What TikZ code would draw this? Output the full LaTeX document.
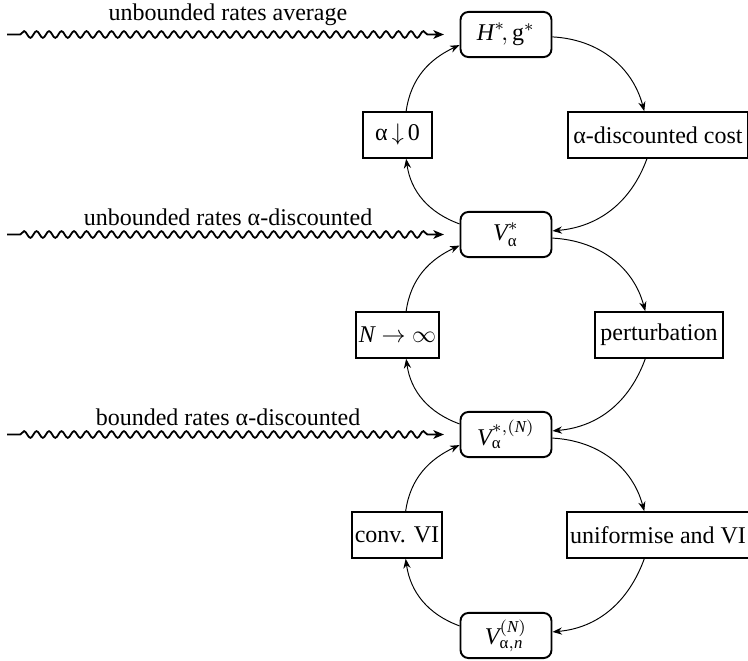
\documentclass[tikz,border=0pt]{standalone}
\usepackage{amsmath}
\usepackage{fontspec}
\setmainfont{Liberation Serif}
\usetikzlibrary{arrows.meta,decorations.pathmorphing}

\begin{document}
\begin{tikzpicture}[x=0.4167pt, y=-0.4167pt,
  valuebox/.style={draw, line width=0.8pt, rounded corners=3.3pt,
    minimum width=37.9pt, minimum height=18.8pt, inner sep=1pt},
  stepbox/.style={draw, line width=0.8pt, minimum height=19pt, inner sep=1pt},
  link/.style={line width=0.4pt, -{Stealth[length=4pt, width=3pt, inset=1.3pt]}},
  wavy/.style={line width=0.75pt, decorate,
    decoration={snake, amplitude=1.4pt, segment length=5.2pt,
      pre length=5.5pt, post length=6pt},
    -{Stealth[length=4.4pt, width=3.6pt, inset=1.2pt]}},
  wavelabel/.style={anchor=south, inner sep=3.3pt}]
\useasboundingbox (0,0) rectangle (748,661);

% value functions (middle column)
\node[valuebox] (H)  at (506,34.5)  {$\textit{H}^{*}\!,\text{g}^{*}$};
\node[valuebox] (V)  at (506,234.5) {$\textit{V}^{*}_{\text{α}}$};
\node[valuebox] (VN) at (506,434.5) {$\textit{V}^{*,(\textit{N})}_{\text{α}}$};
\node[valuebox] (Vn) at (506,635.5) {$\textit{V}^{(\textit{N})}_{\text{α},\textit{n}}$};

% limiting steps (left column)
\node[stepbox, minimum width=28.8pt] (a0) at (397.5,135) {α\,$\downarrow$\,0};
\node[stepbox, minimum width=33.8pt] (nn) at (397.5,335) {$\textit{N}\rightarrow\infty$};
\node[stepbox, minimum width=37.5pt] (cv) at (397,535)   {conv. VI};

% constructions (right column)
\node[stepbox, minimum width=75pt]   (ad) at (658,135)   {α-discounted cost};
\node[stepbox, minimum width=53.3pt] (pt) at (659,335)   {perturbation};
\node[stepbox, minimum width=75.8pt] (un) at (658,535)   {uniformise and VI};

% cycle H -- V
\draw[link] (a0.70) to[out=82, in=205] ([yshift=-4.4pt]H.west);
\draw[link] ([yshift=-1pt]H.east) to[out=-3, in=105] (ad.120);
\draw[link] (ad.245) to[out=250, in=5] ([yshift=1.5pt]V.east);
\draw[link] ([yshift=4.4pt]V.west) to[out=160, in=-82] (a0.-70);

% cycle V -- V^(N)
\draw[link] (nn.70) to[out=82, in=205] ([yshift=-4.6pt]V.west);
\draw[link] ([yshift=-1.5pt]V.east) to[out=-3, in=105] (pt.120);
\draw[link] (pt.240) to[out=250, in=5] ([yshift=1.5pt]VN.east);
\draw[link] ([yshift=4.4pt]VN.west) to[out=160, in=-82] (nn.-70);

% cycle V^(N) -- V_n^(N)
\draw[link] (cv.70) to[out=82, in=205] ([yshift=-4.4pt]VN.west);
\draw[link] ([yshift=-1.5pt]VN.east) to[out=-3, in=105] (un.120);
\draw[link] (un.240) to[out=250, in=5] ([yshift=1.5pt]Vn.east);
\draw[link] ([yshift=4pt]Vn.west) to[out=160, in=-82] (cv.-70);

% model classes entering from the left
\coordinate (s1) at (7,34.5);
\coordinate (s2) at (7,234.5);
\coordinate (s3) at (7,434.5);
\draw[wavy] (s1) -- ([xshift=-6.5pt]H.west);
\draw[wavy] (s2) -- ([xshift=-6.5pt]V.west);
\draw[wavy] (s3) -- ([xshift=-6.5pt]VN.west);
\node[wavelabel] (l1) at (228,34.5)  {unbounded rates average};
\node[wavelabel] (l2) at (228,234.5) {unbounded rates α-discounted};
\node[wavelabel] (l3) at (228,434.5) {bounded rates α-discounted};
\end{tikzpicture}
\end{document}
